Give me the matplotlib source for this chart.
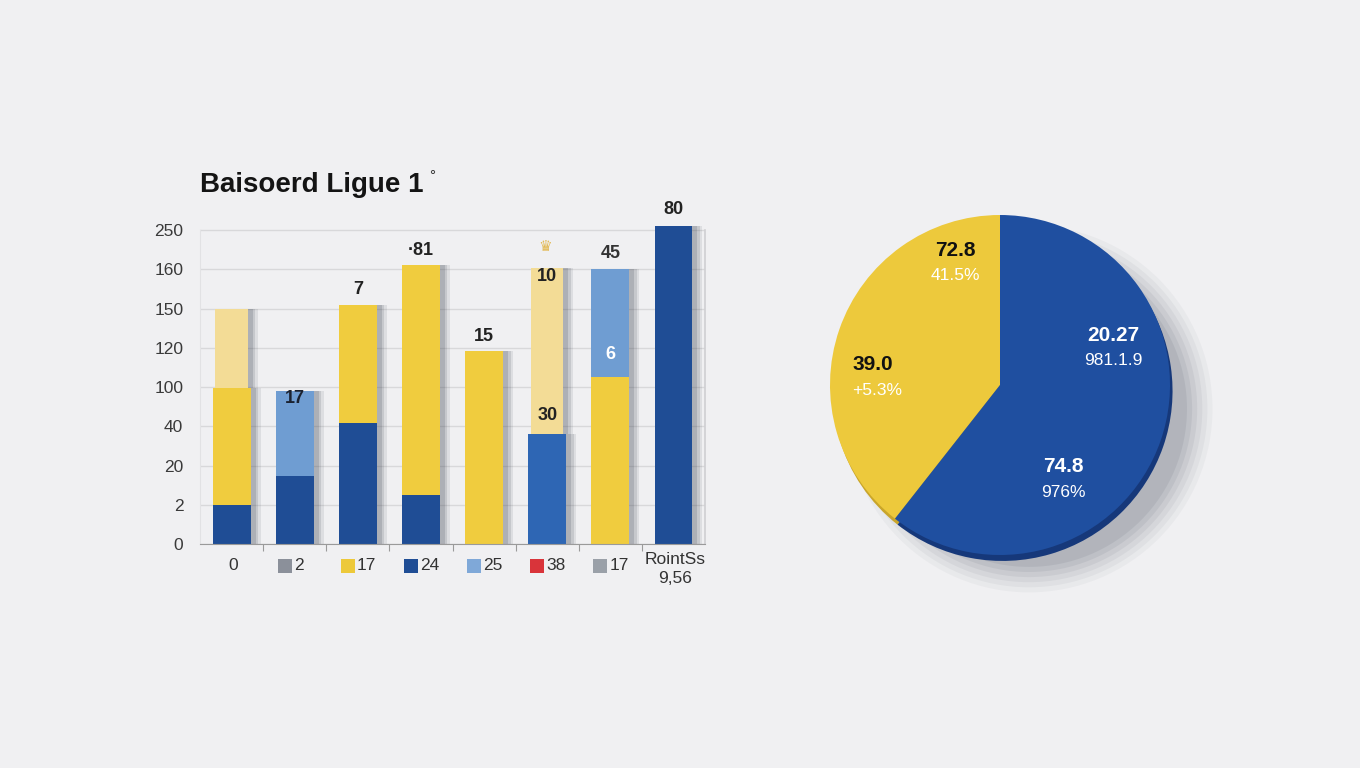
import matplotlib
matplotlib.use("Agg")
import matplotlib.pyplot as plt
from matplotlib.patches import Ellipse
import matplotlib.transforms as mtransforms

plt.rcParams['font.family'] = ['Liberation Sans', 'DejaVu Sans']

# ---------------- data ----------------
title = "Baisoerd Ligue 1"
y_tick_labels = ["0", "2", "20", "40", "100", "120", "150", "160", "250"]
x_labels = ["0", "2", "17", "24", "25", "38", "17", "RointSs\n9,56"]
# stacked segment heights (in axis position units)
seg1 = [1.0, 1.73, 3.08, 1.25, 4.92, 2.80, 4.25, 8.10]
seg2 = [2.97, 2.17, 3.01, 5.85, 0.0, 4.23, 2.75, 0.0]
seg3 = [2.03, 0.0, 0.0, 0.0, 0.0, 0.0, 0.0, 0.0]
seg1_colors = ["dark", "dark", "dark", "dark", "yellow", "mid", "yellow", "dark"]
seg2_colors = ["yellow", "light", "yellow", "yellow", "none", "pale", "light", "none"]
seg3_colors = ["pale", "none", "none", "none", "none", "none", "none", "none"]
# bar labels: (bar index, text, reference level (1=seg1 top, 2=seg1+seg2 top), pixel offset, colour)
bar_labels = [
    (1, "17", 2, -8, "#1b2230"),
    (2, "7", 2, 15, "#222222"),
    (3, "\u00b781", 2, 15, "#222222"),
    (4, "15", 1, 14, "#222222"),
    (5, "10", 2, -8, "#222222"),
    (5, "30", 1, 19, "#222222"),
    (6, "6", 1, 23, "white"),
    (6, "45", 2, 16, "#333333"),
    (7, "80", 1, 17, "#222222"),
]
legend_marker_colors = [None, "#8b909a", "#EDC93A", "#1F4D95", "#7FA8D8", "#D9343A", "#9aa0a8", None]

pie_values = [39.4, 60.6]
pie_colors = ["#EDC93C", "#1F4FA0"]
pie_rim_colors = ["#C9A52A", "#16387A"]
pie_texts = [
    ("72.8", -0.265, 0.79, "#111111", True),
    ("41.5%", -0.265, 0.647, "white", False),
    ("39.0", -0.75, 0.118, "#111111", True),
    ("+5.3%", -0.72, -0.035, "white", False),
    ("20.27", 0.665, 0.294, "white", True),
    ("981.1.9", 0.665, 0.147, "white", False),
    ("74.8", 0.37, -0.48, "white", True),
    ("976%", 0.37, -0.635, "white", False),
]

palette = {"dark": "#1F4D95", "yellow": "#F0CC3E", "mid": "#2E66B4",
           "light": "#6F9DD2", "pale": "#F3DC96"}

# ---------------- figure ----------------
W, H = 1360, 768
fig = plt.figure(figsize=(13.6, 7.68), dpi=100)
fig.patch.set_facecolor("#f0f0f2")

ax = fig.add_axes([200 / W, 1 - 544 / H, 505 / W, 8.3 * 39.25 / H])
ax.set_facecolor("none")
n = len(seg1)
xs = list(range(n))
width = 0.6
ax.set_xlim(-0.5, 7.5)
ax.set_ylim(0, 8.3)

for y in range(len(y_tick_labels)):
    ax.axhline(y, color="#d8d8da", lw=1.0, zorder=0)
ax.plot([7.5, 7.5], [0, 8], color="#cfcfd2", lw=1.2, zorder=0, clip_on=False)

for spine in ["top", "right"]:
    ax.spines[spine].set_visible(False)
ax.spines["left"].set_color("#e2e2e4")
ax.spines["left"].set_bounds(0, 8)
ax.spines["bottom"].set_color("#9a9a9a")

ax.set_yticks(range(len(y_tick_labels)))
ax.set_yticklabels(y_tick_labels, fontsize=12.5, color="#3a3a3a")
ax.tick_params(axis="y", length=0, pad=12)
ax.set_xticks([i + 0.5 for i in range(n - 1)])
ax.set_xticklabels([])
ax.tick_params(axis="x", length=5, color="#9a9a9a", direction="out")

bottoms = [0.0] * n
for seg, cols in [(seg1, seg1_colors), (seg2, seg2_colors), (seg3, seg3_colors)]:
    for i in range(n):
        if seg[i] <= 0 or cols[i] == "none":
            continue
        w = width * (0.85 if cols[i] == "pale" else 1.0)
        # soft shadow to the right
        for dx, a in [(0.16, 0.10), (0.12, 0.14), (0.08, 0.18)]:
            ax.bar(xs[i] + dx, seg[i], width=w, bottom=bottoms[i],
                   color="#3f4552", alpha=a, zorder=1, linewidth=0)
        ax.bar(xs[i], seg[i], width=w, bottom=bottoms[i], color=palette[cols[i]],
               zorder=2, linewidth=0)
    bottoms = [bottoms[i] + seg[i] for i in range(n)]

tops1 = seg1
tops2 = [seg1[i] + seg2[i] for i in range(n)]
for i, txt, lvl, off, c in bar_labels:
    yv = tops1[i] if lvl == 1 else tops2[i]
    ax.annotate(txt, (xs[i], yv), xytext=(0, off), textcoords="offset pixels",
                ha="center", va="center", fontsize=13, fontweight="bold",
                color=c, zorder=5, annotation_clip=False)
# crown icon above bar 6
ax.annotate("\u265b", (xs[5], tops2[5]), xytext=(-2, 22), textcoords="offset pixels",
            ha="center", va="center", fontsize=11, color="#E2B850",
            family="DejaVu Sans", annotation_clip=False)

# x labels with coloured markers
trans = mtransforms.blended_transform_factory(ax.transData, ax.transAxes)
for i, lab in enumerate(x_labels):
    mc = legend_marker_colors[i]
    if mc is None:
        ax.annotate(lab, (xs[i], 0), xycoords=trans, xytext=(2, -25 if "\n" in lab else -22),
                    textcoords="offset pixels", ha="center", va="center",
                    fontsize=12.5, color="#333333", linespacing=1.3,
                    annotation_clip=False)
    else:
        ax.plot([xs[i]], [0], transform=trans + mtransforms.ScaledTranslation(-10 / 100, -22 / 100, fig.dpi_scale_trans),
                marker="s", ms=9.5, color=mc, mew=0, clip_on=False, zorder=5)
        ax.annotate(lab, (xs[i], 0), xycoords=trans, xytext=(-1, -22),
                    textcoords="offset pixels", ha="left", va="center",
                    fontsize=12.5, color="#333333", annotation_clip=False)

fig.text(200 / W, 1 - 192 / H, title, fontsize=20, fontweight="bold",
         color="#141414", ha="left", va="baseline")
fig.text(429 / W, 1 - 176 / H, "\u00b0", fontsize=11, color="#333333",
         ha="left", va="center")

# ---------------- pie ----------------
R = 170
lim = 1.3
side = 2 * lim * R
cx, cy = 1000, 385
pax = fig.add_axes([(cx - side / 2) / W, 1 - (cy + side / 2) / H, side / W, side / H])
pax.set_xlim(-lim, lim)
pax.set_ylim(-lim, lim)
pax.set_aspect("equal")
pax.axis("off")

# soft shadow
for k, a in enumerate([0.04, 0.05, 0.06, 0.07, 0.08, 0.09]):
    r = 1.08 - k * 0.03
    pax.add_patch(Ellipse((0.17, -0.14), 2 * r, 2 * r, color="#3a4356", alpha=a, lw=0, zorder=0))
# rim (thickness)
pax.pie(pie_values, colors=pie_rim_colors, startangle=90, counterclock=True,
        radius=1.0, center=(0.015, -0.035), wedgeprops=dict(linewidth=0))
pax.pie(pie_values, colors=pie_colors, startangle=90, counterclock=True,
        radius=1.0, center=(0, 0), wedgeprops=dict(linewidth=0))
pax.set_xlim(-lim, lim)
pax.set_ylim(-lim, lim)
for txt, x, y, c, bold in pie_texts:
    pax.text(x, y, txt, ha="center", va="center", color=c,
             fontsize=15 if bold else 12.5, fontweight="bold" if bold else "normal", zorder=10)

fig.savefig("out.png", dpi=100, facecolor=fig.get_facecolor())
